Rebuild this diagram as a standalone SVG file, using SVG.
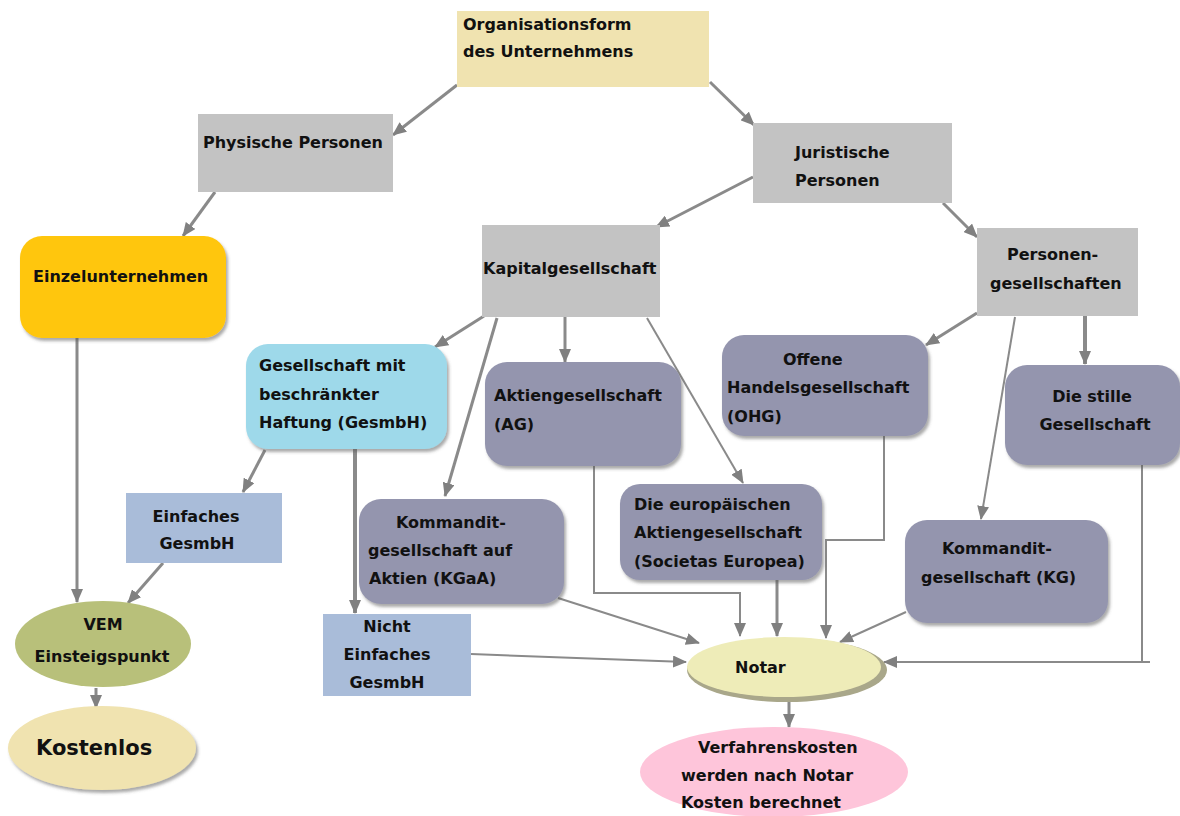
<svg xmlns="http://www.w3.org/2000/svg" width="1180" height="816" viewBox="0 0 1180 816">
<style>
text{font-family:"DejaVu Sans","Liberation Sans",sans-serif;font-weight:bold;font-size:16px;fill:#111}
.c{text-anchor:middle}
.gray{fill:#c3c3c3}
.khaki{fill:#f0e3b0}
.pur{fill:#9495ae}
.steel{fill:#a9bcd9}
.ln{fill:none;stroke:#8a8a8a;stroke-width:3}
.th{fill:none;stroke:#8a8a8a;stroke-width:2}
.sh{filter:url(#ds)}
</style>
<defs>
<marker id="ah" markerUnits="userSpaceOnUse" markerWidth="14" markerHeight="12" refX="13" refY="6" orient="auto">
<path d="M0,0 L14,6 L0,12 z" fill="#808080"/>
</marker>
<filter id="ds" x="-10%" y="-10%" width="125%" height="130%">
<feDropShadow dx="2" dy="3" stdDeviation="1.5" flood-color="#555" flood-opacity="0.5"/>
</filter>
</defs>
<rect width="1180" height="816" fill="#fff"/>

<g id="connectors">
<path class="ln" d="M457,85 L393,135" marker-end="url(#ah)"/>
<path class="ln" d="M710,82 L754,125" marker-end="url(#ah)"/>
<path class="ln" d="M215,192 L183,236" marker-end="url(#ah)"/>
<path class="ln" d="M753,177 L656,227" marker-end="url(#ah)"/>
<path class="ln" d="M943,203 L977,237" marker-end="url(#ah)"/>
<path class="ln" d="M77,338 L77,602" marker-end="url(#ah)"/>
<path class="ln" d="M163,563 L128,603" marker-end="url(#ah)"/>
<path class="ln" d="M265,450 L243,492" marker-end="url(#ah)"/>
<path class="ln" style="stroke-width:4" d="M355,449 L355,613" marker-end="url(#ah)"/>
<path class="ln" d="M484,316 L435,347" marker-end="url(#ah)"/>
<path class="ln" d="M497,318 L445,496" marker-end="url(#ah)"/>
<path class="ln" d="M565,317 L565,362" marker-end="url(#ah)"/>
<path class="th" d="M647,318 L743,483" marker-end="url(#ah)"/>
<path class="ln" d="M977,313 L926,345" marker-end="url(#ah)"/>
<path class="ln" style="stroke-width:4" d="M1085,316 L1085,364" marker-end="url(#ah)"/>
<path class="th" d="M1015,317 L981,519" marker-end="url(#ah)"/>
<path class="th" d="M594,466 L594,593 L740,593 L740,636" marker-end="url(#ah)"/>
<path class="ln" d="M777,580 L777,636" marker-end="url(#ah)"/>
<path class="th" d="M884,436 L884,540 L826,540 L826,638" marker-end="url(#ah)"/>
<path class="th" d="M558,598 L699,643" marker-end="url(#ah)"/>
<path class="th" d="M471,654 L686,662" marker-end="url(#ah)"/>
<path class="th" d="M906,612 L840,642" marker-end="url(#ah)"/>
<path class="th" d="M1142,465 L1142,662 L884,662" marker-end="url(#ah)"/>
<path class="th" d="M1142,662 L1150,662"/>
<path class="ln" d="M789,700 L789,727" marker-end="url(#ah)"/>
<path class="ln" d="M96,688 L96,708" marker-end="url(#ah)"/>
</g>

<g id="n-org">
<rect class="khaki" x="457" y="11" width="252" height="76"/>
<text x="463" y="30">Organisationsform</text>
<text x="463" y="57">des Unternehmens</text>
</g>
<g id="n-physische">
<rect class="gray" x="198" y="114" width="195" height="78"/>
<text x="203" y="148">Physische Personen</text>
</g>
<g id="n-juristische">
<rect class="gray" x="753" y="123" width="199" height="80"/>
<text x="795" y="158">Juristische</text>
<text x="795" y="186">Personen</text>
</g>
<g id="n-einzel">
<rect class="sh" x="20" y="236" width="206" height="102" rx="22" fill="#ffc60b"/>
<text x="33" y="282">Einzelunternehmen</text>
</g>
<g id="n-kapital">
<rect class="gray" x="482" y="225" width="178" height="92"/>
<text x="483" y="274">Kapitalgesellschaft</text>
</g>
<g id="n-personen">
<rect class="gray" x="977" y="228" width="161" height="88"/>
<text x="1007" y="260">Personen-</text>
<text x="990" y="289">gesellschaften</text>
</g>
<g id="n-gesmbh">
<rect class="sh" x="246" y="344" width="201" height="105" rx="22" fill="#9ed9ea"/>
<text x="259" y="371">Gesellschaft mit</text>
<text x="259" y="400">beschränkter</text>
<text x="259" y="428">Haftung (GesmbH)</text>
</g>
<g id="n-ag">
<rect class="pur sh" x="485" y="362" width="196" height="104" rx="22"/>
<text x="494" y="401">Aktiengesellschaft</text>
<text x="494" y="430">(AG)</text>
</g>
<g id="n-ohg">
<rect class="pur sh" x="722" y="335" width="206" height="101" rx="22"/>
<text x="783" y="365">Offene</text>
<text x="727" y="393">Handelsgesellschaft</text>
<text x="727" y="422">(OHG)</text>
</g>
<g id="n-stille">
<rect class="pur sh" x="1005" y="365" width="175" height="100" rx="22"/>
<text class="c" x="1092" y="402">Die stille</text>
<text class="c" x="1095" y="430">Gesellschaft</text>
</g>
<g id="n-einfaches">
<rect class="steel" x="126" y="493" width="156" height="70"/>
<text class="c" x="196" y="522">Einfaches</text>
<text class="c" x="197" y="549">GesmbH</text>
</g>
<g id="n-kgaa">
<rect class="pur sh" x="359" y="499" width="205" height="105" rx="22"/>
<text x="396" y="528">Kommandit-</text>
<text x="368" y="556">gesellschaft auf</text>
<text x="369" y="584">Aktien (KGaA)</text>
</g>
<g id="n-se">
<rect class="pur sh" x="620" y="484" width="202" height="96" rx="20"/>
<text x="634" y="510">Die europäischen</text>
<text x="634" y="538">Aktiengesellschaft</text>
<text x="634" y="567">(Societas Europea)</text>
</g>
<g id="n-kg">
<rect class="pur sh" x="905" y="520" width="203" height="103" rx="22"/>
<text x="942" y="554">Kommandit-</text>
<text x="921" y="583">gesellschaft (KG)</text>
</g>
<g id="n-vem">
<ellipse cx="103" cy="644" rx="88" ry="43" fill="#b8c07a"/>
<text class="c" x="103" y="630">VEM</text>
<text class="c" x="102" y="662">Einsteigspunkt</text>
</g>
<g id="n-nicht">
<rect class="steel" x="323" y="614" width="148" height="82"/>
<text class="c" x="387" y="632">Nicht</text>
<text class="c" x="387" y="660">Einfaches</text>
<text class="c" x="387" y="688">GesmbH</text>
</g>
<g id="n-kostenlos">
<ellipse class="sh" cx="102" cy="748" rx="94" ry="42" fill="#f0e3b0"/>
<text x="36" y="755" style="font-size:21px">Kostenlos</text>
</g>
<g id="n-notar">
<ellipse cx="787" cy="670" rx="100" ry="32" fill="#a9a78a"/>
<ellipse cx="784" cy="667" rx="97" ry="30" fill="#eeecb8"/>
<text x="735" y="673">Notar</text>
</g>
<g id="n-kosten">
<ellipse cx="774" cy="772" rx="134" ry="45" fill="#fec5da"/>
<text x="698" y="753">Verfahrenskosten</text>
<text x="681" y="781">werden nach Notar</text>
<text x="681" y="808">Kosten berechnet</text>
</g>
</svg>
